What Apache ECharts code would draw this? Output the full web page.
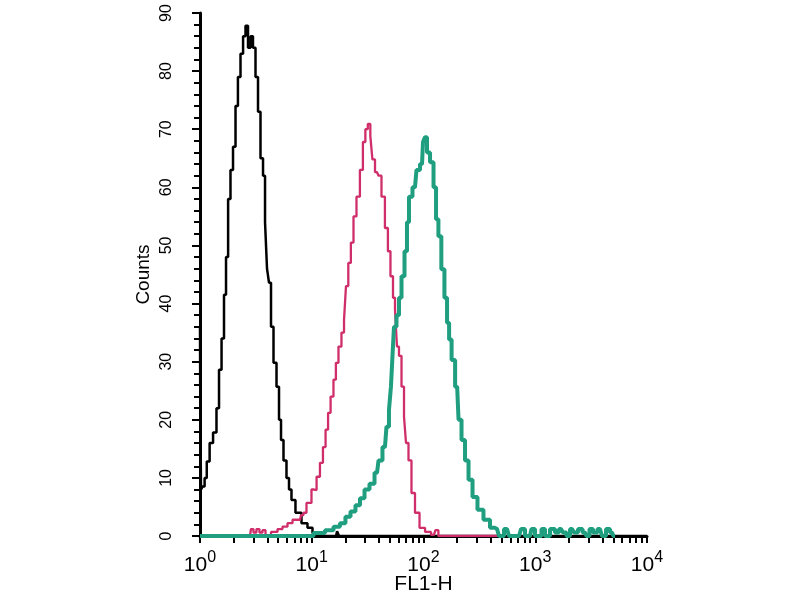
<!DOCTYPE html>
<html><head><meta charset="utf-8">
<script src="https://cdn.jsdelivr.net/npm/echarts@6/dist/echarts.min.js"></script>
<style>html,body{margin:0;padding:0;background:#fff}#c{width:800px;height:600px}</style>
</head><body><div id="c"></div>
<script>
// FL1-H histogram data (x = FL1-H, y = counts)
const blackX = [1.00,1.012,1.03,1.08,1.12,1.18,1.26,1.36,1.45,1.51,1.61,1.67,1.75,1.82,1.93,2.02,2.14,2.23,2.38,2.48,2.63,2.75,2.92,3.04,3.24,3.37,3.59,3.74,3.90,4.06,4.23,4.41,4.69,4.99,5.20,5.42,5.76,6.13,6.39,6.79,7.53,8.70,9.64,10.7,11.4,16.5,17.2,17.9,10000];
const blackY = [36,22,8,8.5,10,12.8,16,17.8,22,28.6,34,41.5,48,58,63,67,74,79,83,86,87.8,84,86,84,79,73,65,62,54,46,43.6,36,29.8,25.7,20,16.5,13,10,8,6.2,4,2.2,1.4,0.5,0,0,0.8,0,0];

const pinkX = [2.80,2.92,3.10,3.30,3.51,3.74,3.98,4.69,5.20,5.76,6.39,7.09,7.86,8.18,8.70,9.25,9.64,10.26,10.7,11.4,12.3,12.9,13.7,14.3,15.2,16.1,16.8,17.9,19.0,19.9,20.6,21.9,22.9,24.4,25.9,28.1,29.3,31.1,32.4,34.5,35.3,38.4,40.8,43.4,47.0,49.1,52.2,54.5,56.7,59.1,61.6,65.6,68.3,71.2,75.7,80.5,87.5,97,110,124,132,140,484];
const pinkY = [0,1.2,0.6,1.2,0.6,1.0,0,0.7,1.2,1.6,2.2,2.8,2.8,3.6,4,5.7,5.7,8,7.9,10.2,12.6,15.3,18.3,21.2,24,26.9,29.8,32.6,35,37.2,43,47,50.5,55,58.4,63,67.8,70,70.9,68.8,64.8,62.6,62,58.4,53,49,44.7,41,39,32.6,31,25.7,20.5,16,13,7.4,4,1.4,0.7,0.2,1,0,0];

const tealX = [1.0,9.06,11.85,14.6,16.8,19.0,21.1,23.4,25.9,28.2,31.2,34.6,38.4,40.8,45.2,48.1,50.1,52.2,53.3,55.6,59.1,61.6,65.6,69.7,72.6,75.7,83.9,89.3,97.0,101,105,110,119,127,132,140,149,159,166,173,184,200,212,226,245,261,289,320,370,419,455,494,559,607,716,777,844,897,955,1037,1103,1173,1274,1441,1565,1700,1846,1964,2133,2316,2515,2788,2965,3154,3425,3797,4123,4477,4862,5171];
const tealY = [0,0,0.5,1.0,1.6,2.2,3.3,4.2,5.3,6.5,8,9,10.9,13,15.3,18.8,21.7,25.7,30.9,36,38,41,44.7,49,54,58.4,60,63,64,67.8,68.6,66,64.3,60,54.5,51.6,45.9,41,36.7,33.8,30.3,25.7,20,16.5,13,9.7,6.7,4.5,2.8,1.4,1.2,0,1.2,0,0,1.2,0,0,1.2,0,0,1.2,0,1.2,0.6,1.2,0.6,0,1.2,0.6,1.2,0.6,0,1.2,0.6,1.2,0,1.2,0.6,0];

// axis ticks
const decadeTicks = [1, 10, 100, 1000, 10000];
const minorMultipliers = [1, 2, 3, 4, 5, 6, 7, 8, 9];
const yMin = 0, yMax = 90, yStep = 10;

const zip = (xs, ys) => xs.map((x, i) => [x, ys[i]]);
// tick positions expressed as decade exponents for the helper tick axis
const tickExps = [];
decadeTicks.slice(0, -1).forEach(d => minorMultipliers.forEach(m => tickExps.push(Math.log10(d * m))));
tickExps.push(Math.log10(decadeTicks[decadeTicks.length - 1]));
const expMin = Math.log10(decadeTicks[0]), expMax = Math.log10(decadeTicks[decadeTicks.length - 1]);

const FONT = 'Liberation Sans';
const chart = echarts.init(document.getElementById('c'), null, {renderer: 'canvas'});
chart.setOption({
  animation: false,
  backgroundColor: '#fff',
  grid: {left: 200, right: 153, top: 13, bottom: 64, containLabel: false, outerBoundsMode: 'none'},
  xAxis: [{
    type: 'log', logBase: 10, min: decadeTicks[0], max: decadeTicks[decadeTicks.length - 1],
    name: 'FL1-H', nameLocation: 'middle', nameGap: 38, nameMoveOverlap: false,
    nameTextStyle: {fontFamily: FONT, fontSize: 21, color: '#000'},
    axisLine: {show: true, lineStyle: {color: '#000', width: 3}},
    axisTick: {show: false},
    minorTick: {show: false},
    splitLine: {show: false},
    axisLabel: {
      customValues: decadeTicks, margin: 14,
      formatter: v => '{b|10}{s|' + Math.round(Math.log10(v)) + '}',
      rich: {
        b: {fontFamily: FONT, fontSize: 21, color: '#000', lineHeight: 30},
        s: {fontFamily: FONT, fontSize: 16, color: '#000', lineHeight: 8, verticalAlign: 'top'}
      }
    }
  }, {
    type: 'value', min: expMin, max: expMax, position: 'bottom',
    axisLine: {show: false},
    axisTick: {show: true, inside: false, length: 7, customValues: tickExps, lineStyle: {color: '#000', width: 2}},
    axisLabel: {show: false},
    splitLine: {show: false}
  }],
  yAxis: {
    type: 'value', min: yMin, max: yMax, interval: yStep,
    name: 'Counts', nameLocation: 'middle', nameGap: 47, nameMoveOverlap: false,
    nameTextStyle: {fontFamily: FONT, fontSize: 19, color: '#000'},
    axisLine: {show: true, lineStyle: {color: '#000', width: 3}},
    axisTick: {show: true, inside: false, length: 8, lineStyle: {color: '#000', width: 2}},
    minorTick: {show: true, splitNumber: 5, length: 6, lineStyle: {color: '#000', width: 2}},
    splitLine: {show: false},
    axisLabel: {rotate: 90, fontFamily: FONT, fontSize: 16, color: '#000', margin: 25}
  },
  series: [
    {type: 'line', data: zip(blackX, blackY), step: 'middle', symbol: 'none', lineStyle: {color: '#000', width: 2.5}},
    {type: 'line', data: zip(pinkX, pinkY), step: 'middle', symbol: 'none', lineStyle: {color: '#d02e6a', width: 2.3}},
    {type: 'line', data: zip(tealX, tealY), step: 'middle', symbol: 'none', lineStyle: {color: '#1f9e80', width: 4}}
  ]
});
</script></body></html>
